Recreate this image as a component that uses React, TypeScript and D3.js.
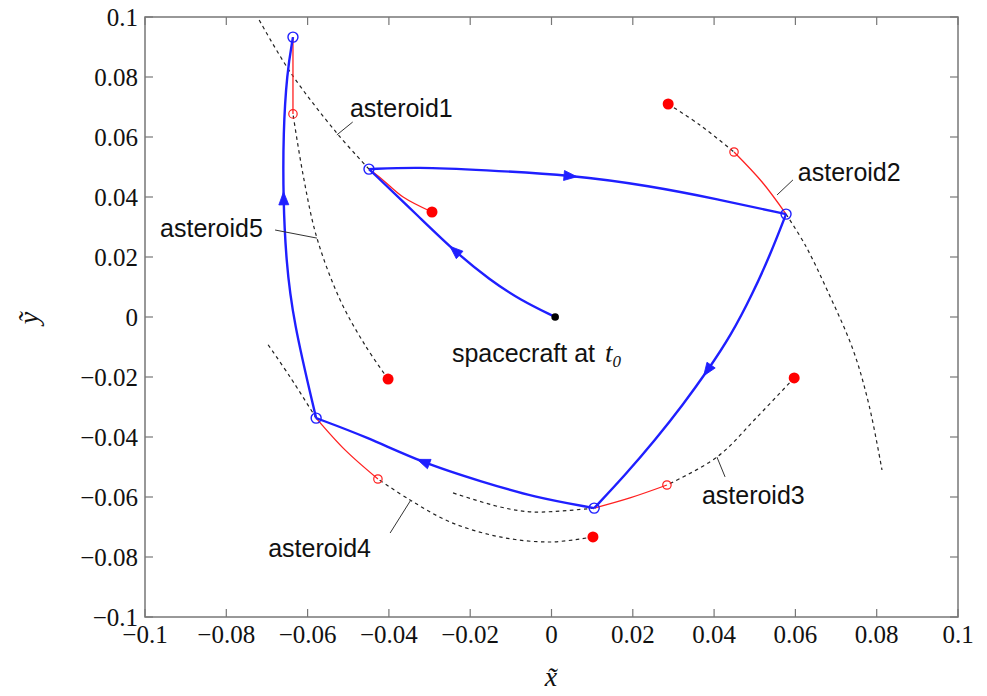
import React from "react";
import * as d3 from "d3";

type P = [number, number];

const xTicks = [-0.1, -0.08, -0.06, -0.04, -0.02, 0, 0.02, 0.04, 0.06, 0.08, 0.1];
const yTicks = [-0.1, -0.08, -0.06, -0.04, -0.02, 0, 0.02, 0.04, 0.06, 0.08, 0.1];
const tickLabels = ["−0.1", "−0.08", "−0.06", "−0.04", "−0.02", "0", "0.02", "0.04", "0.06", "0.08", "0.1"];

const spacecraftStart: P = [0.0009, 0];

// spacecraft transfer legs (travel order)
const leg1: P[] = [[0.0009, 0], [-0.0077, 0.0057], [-0.0151, 0.0123], [-0.0237, 0.0217], [-0.0323, 0.033], [-0.0449, 0.0493]];
const leg2: P[] = [[-0.0449, 0.0493], [-0.0331, 0.05], [-0.0169, 0.049], [0.005, 0.0473], [0.0242, 0.0437], [0.0407, 0.0393], [0.0577, 0.0343]];
const leg3: P[] = [[0.0577, 0.0343], [0.0538, 0.0207], [0.0493, 0.0073], [0.0442, -0.006], [0.0385, -0.0177], [0.0323, -0.0293], [0.0255, -0.041], [0.0181, -0.0527], [0.0105, -0.0637]];
const leg4: P[] = [[0.0105, -0.0637], [-0.0045, -0.06], [-0.0169, -0.055], [-0.0316, -0.0487], [-0.0454, -0.04], [-0.0579, -0.0337]];
const leg5: P[] = [[-0.0579, -0.0337], [-0.0636, -0.001], [-0.0653, 0.019], [-0.066, 0.039], [-0.066, 0.0613], [-0.0651, 0.0813], [-0.0636, 0.0933]];
const legs = [leg1, leg2, leg3, leg4, leg5];
const arrowIndex = [3, 3, 4, 3, 3];

// asteroids: filled start, dashed before, red arc, encounter, dashed after
const astStart: P[] = [[-0.0294, 0.035], [0.0287, 0.071], [0.0597, -0.0203], [0.0102, -0.0733], [-0.0402, -0.0207]];
const astOpen: (P | null)[] = [null, [0.0449, 0.055], [0.0284, -0.056], [-0.0427, -0.054], [-0.0636, 0.0677]];
const astEncounter: P[] = [[-0.0449, 0.0493], [0.0577, 0.0343], [0.0105, -0.0637], [-0.0579, -0.0337], [-0.0636, 0.0933]];
const astDashedBefore: P[][] = [
  [],
  [[0.0287, 0.071], [0.0365, 0.064], [0.0449, 0.055]],
  [[0.0597, -0.0203], [0.0506, -0.0333], [0.0407, -0.0467], [0.0284, -0.056]],
  [[0.0102, -0.0733], [-0.0004, -0.075], [-0.0127, -0.0733], [-0.025, -0.0683], [-0.0348, -0.061], [-0.0427, -0.054]],
  [[-0.0402, -0.0207], [-0.0459, -0.0093], [-0.052, 0.0057], [-0.0577, 0.0263], [-0.0611, 0.0473], [-0.0636, 0.0677]],
];
const astRed: P[][] = [
  [[-0.0294, 0.035], [-0.0365, 0.04], [-0.0415, 0.0457], [-0.0449, 0.0493]],
  [[0.0449, 0.055], [0.0518, 0.045], [0.0577, 0.0343]],
  [[0.0284, -0.056], [0.0193, -0.0603], [0.0105, -0.0637]],
  [[-0.0427, -0.054], [-0.0508, -0.0443], [-0.0579, -0.0337]],
  [[-0.0636, 0.0677], [-0.0636, 0.0933]],
];
const astDashedAfter: P[][] = [
  [[-0.0449, 0.0493], [-0.0528, 0.0613], [-0.0643, 0.0817], [-0.0722, 0.0997]],
  [[0.0577, 0.0343], [0.0624, 0.024], [0.0678, 0.009], [0.0742, -0.011], [0.0781, -0.0293], [0.0813, -0.051]],
  [[0.0105, -0.0637], [-0.0045, -0.065], [-0.0127, -0.0633], [-0.025, -0.0583]],
  [[-0.0579, -0.0337], [-0.0643, -0.02], [-0.07, -0.0087]],
  [],
];

const labelNames = ["asteroid1", "asteroid2", "asteroid3", "asteroid4", "asteroid5"];
const labelAnchor: P[] = [[-0.0496, 0.0667], [0.0606, 0.0453], [0.037, -0.0623], [-0.0697, -0.08], [-0.0963, 0.0267]];
const leaderFrom: P[] = [[-0.0489, 0.065], [0.0594, 0.0457], [0.0427, -0.0533], [-0.0397, -0.072], [-0.068, 0.029]];
const leaderTo: P[] = [[-0.0528, 0.0607], [0.0555, 0.0407], [0.0407, -0.0467], [-0.0346, -0.061], [-0.0577, 0.0263]];
const spacecraftLabel: P = [-0.0245, -0.015];

const W = 987, H = 696;
const M = { left: 145, right: 958, top: 17, bottom: 617 };

export default function App() {
  const x = d3.scaleLinear().domain([-0.1, 0.1]).range([M.left, M.right]);
  const y = d3.scaleLinear().domain([-0.1, 0.1]).range([M.bottom, M.top]);
  const line = d3.line<P>().x(d => x(d[0])).y(d => y(d[1])).curve(d3.curveCatmullRom.alpha(0.5));
  const smooth = d3.line<P>().x(d => x(d[0])).y(d => y(d[1])).curve(d3.curveBasis);
  const blue = "#1f1fff";
  const serif = "'Liberation Serif', 'Times New Roman', serif";
  const sans = "'Liberation Sans', Arial, Helvetica, sans-serif";
  const tick = 8;

  const arrow = (pts: P[], i: number, key: string) => {
    const a = pts[i - 1], b = pts[i + 1];
    // point on the basis curve near index i
    const px = (x(a[0]) + 4 * x(pts[i][0]) + x(b[0])) / 6;
    const py = (y(a[1]) + 4 * y(pts[i][1]) + y(b[1])) / 6;
    const ang = Math.atan2(y(b[1]) - y(a[1]), x(b[0]) - x(a[0])) * 180 / Math.PI;
    return (
      <path key={key} d="M7,0 L-6,-5 L-6,5 Z" fill={blue} stroke={blue} strokeWidth={0.8}
        transform={`translate(${px},${py}) rotate(${ang})`} />
    );
  };

  return (
    <svg width={W} height={H} style={{ display: "block", position: "absolute", left: 0, top: 0, background: "#fff" }}>
      {/* ticks */}
      {xTicks.map((t, i) => (
        <g key={"xt" + i}>
          <line x1={x(t)} x2={x(t)} y1={M.bottom} y2={M.bottom - tick} stroke="#777" strokeWidth={1.2} />
          <line x1={x(t)} x2={x(t)} y1={M.top} y2={M.top + tick} stroke="#777" strokeWidth={1.2} />
          <text x={x(t)} y={643} textAnchor="middle" fontFamily={serif} fontSize={25} fill="#111">{tickLabels[i]}</text>
        </g>
      ))}
      {yTicks.map((t, i) => (
        <g key={"yt" + i}>
          <line x1={M.left} x2={M.left + tick} y1={y(t)} y2={y(t)} stroke="#777" strokeWidth={1.2} />
          <line x1={M.right} x2={M.right - tick} y1={y(t)} y2={y(t)} stroke="#777" strokeWidth={1.2} />
          <text x={138} y={y(t) + 8.5} textAnchor="end" fontFamily={serif} fontSize={25} fill="#111">{tickLabels[i]}</text>
        </g>
      ))}
      <rect x={M.left} y={M.top} width={M.right - M.left} height={M.bottom - M.top} fill="none" stroke="#777" strokeWidth={1.5} />

      {/* asteroid dashed orbits */}
      {astDashedBefore.map((pts, i) => pts.length > 1 && (
        <path key={"db" + i} d={line(pts) || ""} fill="none" stroke="#222" strokeWidth={1.2} strokeDasharray="3.5,3.5" />
      ))}
      {astDashedAfter.map((pts, i) => pts.length > 1 && (
        <path key={"da" + i} d={line(pts) || ""} fill="none" stroke="#222" strokeWidth={1.2} strokeDasharray="3.5,3.5" />
      ))}
      {astRed.map((pts, i) => (
        <path key={"r" + i} d={line(pts) || ""} fill="none" stroke="#ff2020" strokeWidth={1.3} />
      ))}

      {/* spacecraft legs */}
      {legs.map((pts, i) => (
        <path key={"leg" + i} d={smooth(pts) || ""} fill="none" stroke={blue} strokeWidth={2.4} />
      ))}
      {legs.map((pts, i) => arrow(pts, arrowIndex[i], "ar" + i))}

      {/* markers */}
      {astOpen.map((p, i) => p && (
        <circle key={"o" + i} cx={x(p[0])} cy={y(p[1])} r={4.2} fill="none" stroke="#ff2020" strokeWidth={1.2} />
      ))}
      {astStart.map((p, i) => (
        <circle key={"s" + i} cx={x(p[0])} cy={y(p[1])} r={5.5} fill="#ff0000" />
      ))}
      {astEncounter.map((p, i) => (
        <circle key={"e" + i} cx={x(p[0])} cy={y(p[1])} r={5} fill="none" stroke={blue} strokeWidth={1.4} />
      ))}
      <circle cx={x(spacecraftStart[0])} cy={y(spacecraftStart[1])} r={3.8} fill="#000" />

      {/* labels */}
      {labelNames.map((n, i) => (
        <g key={"lb" + i}>
          <line x1={x(leaderFrom[i][0])} y1={y(leaderFrom[i][1])} x2={x(leaderTo[i][0])} y2={y(leaderTo[i][1])} stroke="#333" strokeWidth={1} />
          <text x={x(labelAnchor[i][0])} y={y(labelAnchor[i][1])} fontFamily={sans} fontSize={25} fill="#111">{n}</text>
        </g>
      ))}
      <text x={x(spacecraftLabel[0])} y={y(spacecraftLabel[1])} fontFamily={sans} fontSize={25} fill="#111">
        spacecraft at
        <tspan dx={10} fontFamily={serif} fontStyle="italic" fontSize={27}>t</tspan>
        <tspan dy={5} fontFamily={serif} fontStyle="italic" fontSize={17}>0</tspan>
      </text>

      {/* axis labels */}
      <text x={551} y={686} textAnchor="middle" fontFamily={serif} fontStyle="italic" fontSize={28} fill="#111">x&#771;</text>
      <text transform="translate(38,318) rotate(-90)" textAnchor="middle" fontFamily={serif} fontStyle="italic" fontSize={28} fill="#111">y&#771;</text>
    </svg>
  );
}
